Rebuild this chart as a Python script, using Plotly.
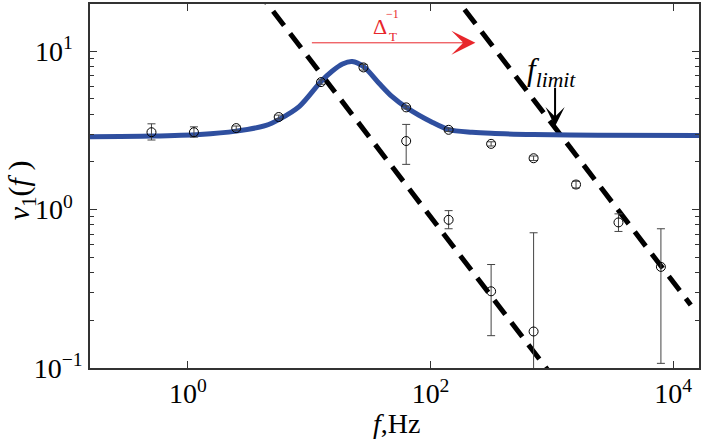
import plotly.graph_objects as go

# upper branch of the measured points (Hz, value, error bounds)
freq_hi = [0.5, 1.12, 2.5, 5.6, 12.5, 28, 63, 141, 316, 708, 1585, 3548, 7943]
nu_hi = [3.08, 3.08, 3.27, 3.84, 6.38, 7.9, 4.42, 3.19, 2.6, 2.11, 1.44, 0.83, 0.435]
nu_hi_up = [3.48, 3.33, 3.37, 3.95, 6.6, 8.25, 4.52, 3.27, 2.68, 2.18, 1.51, 0.94, 0.757]
nu_hi_lo = [2.75, 2.87, 3.17, 3.74, 6.18, 7.6, 4.32, 3.11, 2.52, 2.04, 1.37, 0.728, 0.107]

# lower branch
freq_lo = [63, 141, 316, 708]
nu_lo = [2.71, 0.862, 0.305, 0.17]
nu_lo_up = [3.45, 0.985, 0.45, 0.714]
nu_lo_lo = [1.93, 0.757, 0.16, 0.08]

# fitted curve
fit_f = [0.155, 0.5, 1.25, 2.5, 4.4, 5.6, 8.3, 12.5, 15.5, 18.8, 22.6, 28.3,
         37.6, 48, 63, 103, 141, 220, 316, 708, 2400, 16400]
fit_nu = [2.88, 2.91, 2.98, 3.13, 3.4, 3.7, 4.49, 6.44, 7.5, 8.3, 8.6, 7.95,
          6.28, 5.18, 4.42, 3.56, 3.2, 3.08, 3.03, 2.98, 2.95, 2.94]

# the two -1 slope guide lines
guide1_f = [1, 1000]
guide1_nu = [90, 0.09]
guide2_f = [100, 14000]
guide2_nu = [35, 0.25]

SERIF = "Liberation Serif, Times New Roman, serif"
AXIS = "#333333"
RED = "#e8262b"


def points_trace(f, v, up, lo):
    return go.Scatter(
        x=f,
        y=v,
        mode="markers",
        marker=dict(symbol="circle-open", size=9, color="black", line=dict(width=1)),
        error_y=dict(
            type="data",
            symmetric=False,
            array=[u - y for u, y in zip(up, v)],
            arrayminus=[y - l for l, y in zip(lo, v)],
            color="#444444",
            thickness=1,
            width=4,
        ),
    )


def px(x, y):
    # page pixel -> paper coords of the plot area (l=90, r=701, t=2, b=368)
    return (x - 90) / 611, (368 - y) / 366


fig = go.Figure()
for gf, gv in [(guide1_f, guide1_nu), (guide2_f, guide2_nu)]:
    fig.add_trace(
        go.Scatter(x=gf, y=gv, mode="lines",
                   line=dict(color="black", width=5, dash="18px,10px"))
    )
fig.add_trace(
    go.Scatter(x=fit_f, y=fit_nu, mode="lines",
               line=dict(color="#2f4f9f", width=5, shape="spline", smoothing=0.8))
)
fig.add_trace(points_trace(freq_hi, nu_hi, nu_hi_up, nu_hi_lo))
fig.add_trace(points_trace(freq_lo, nu_lo, nu_lo_up, nu_lo_lo))

minor_y = [0.2, 0.3, 0.4, 0.5, 0.6, 0.7, 0.8, 0.9, 2, 3, 4, 5, 6, 7, 8, 9]


def label(x, y, text, size, color="black", angle=0):
    xp, yp = px(x, y)
    return dict(x=xp, y=yp, xref="paper", yref="paper", text=text, showarrow=False,
                xanchor="center", yanchor="middle", textangle=angle,
                font=dict(family=SERIF, size=size, color=color))


annotations = [
    # red arrow (Delta_T^-1)
    dict(x=2.37, y=1.053, xref="x", yref="y", text="", showarrow=True,
         ax=-165, ay=0, arrowhead=3, arrowsize=4, arrowwidth=1, arrowcolor=RED),
    label(381, 25, "Δ", 22, RED),
    label(393, 12, "−1", 12, RED),
    label(393.5, 35, "T", 13, RED),
    # f_limit arrow
    dict(x=3.027, y=0.527, xref="x", yref="y", text="", showarrow=True,
         ax=0, ay=-40, arrowhead=3, arrowsize=1.6, arrowwidth=2, arrowcolor="black"),
    label(553, 70, "<i>f</i><sub><i>limit</i></sub>", 31),
    # axis titles
    label(21, 189, "<i>ν</i><sub>1</sub>(<i>f</i> )", 30, angle=-90),
    label(398, 424, "<i>f</i>,Hz", 28),
]

fig.update_layout(
    width=703,
    height=441,
    margin=dict(l=90, r=2, t=2, b=73),
    plot_bgcolor="white",
    paper_bgcolor="white",
    showlegend=False,
    annotations=annotations,
    xaxis=dict(
        type="log",
        range=[-0.808, 4.214],
        tickvals=[1, 100, 10000],
        ticktext=["10<sup>0</sup>", "10<sup>2</sup>", "10<sup>4</sup>"],
        ticks="inside",
        ticklen=7,
        tickcolor=AXIS,
        showline=True,
        linecolor=AXIS,
        linewidth=1.5,
        mirror="ticks",
        showgrid=False,
        zeroline=False,
        tickfont=dict(family=SERIF, size=28, color="black"),
    ),
    yaxis=dict(
        type="log",
        range=[-1, 1.298],
        tickvals=[0.1, 1, 10],
        ticktext=["10<sup>−1</sup>", "10<sup>0\u2002</sup>", "10<sup>1\u2002</sup>"],
        ticks="inside",
        ticklen=7,
        tickcolor=AXIS,
        minor=dict(tickvals=minor_y, ticks="inside", ticklen=4, tickcolor=AXIS,
                   showgrid=False),
        showline=True,
        linecolor=AXIS,
        linewidth=1.5,
        mirror="ticks",
        showgrid=False,
        zeroline=False,
        tickfont=dict(family=SERIF, size=28, color="black"),
    ),
)

fig.write_html(
    "out.html",
    config={"displayModeBar": False},
    post_script="document.body.style.margin = '0';",
)
